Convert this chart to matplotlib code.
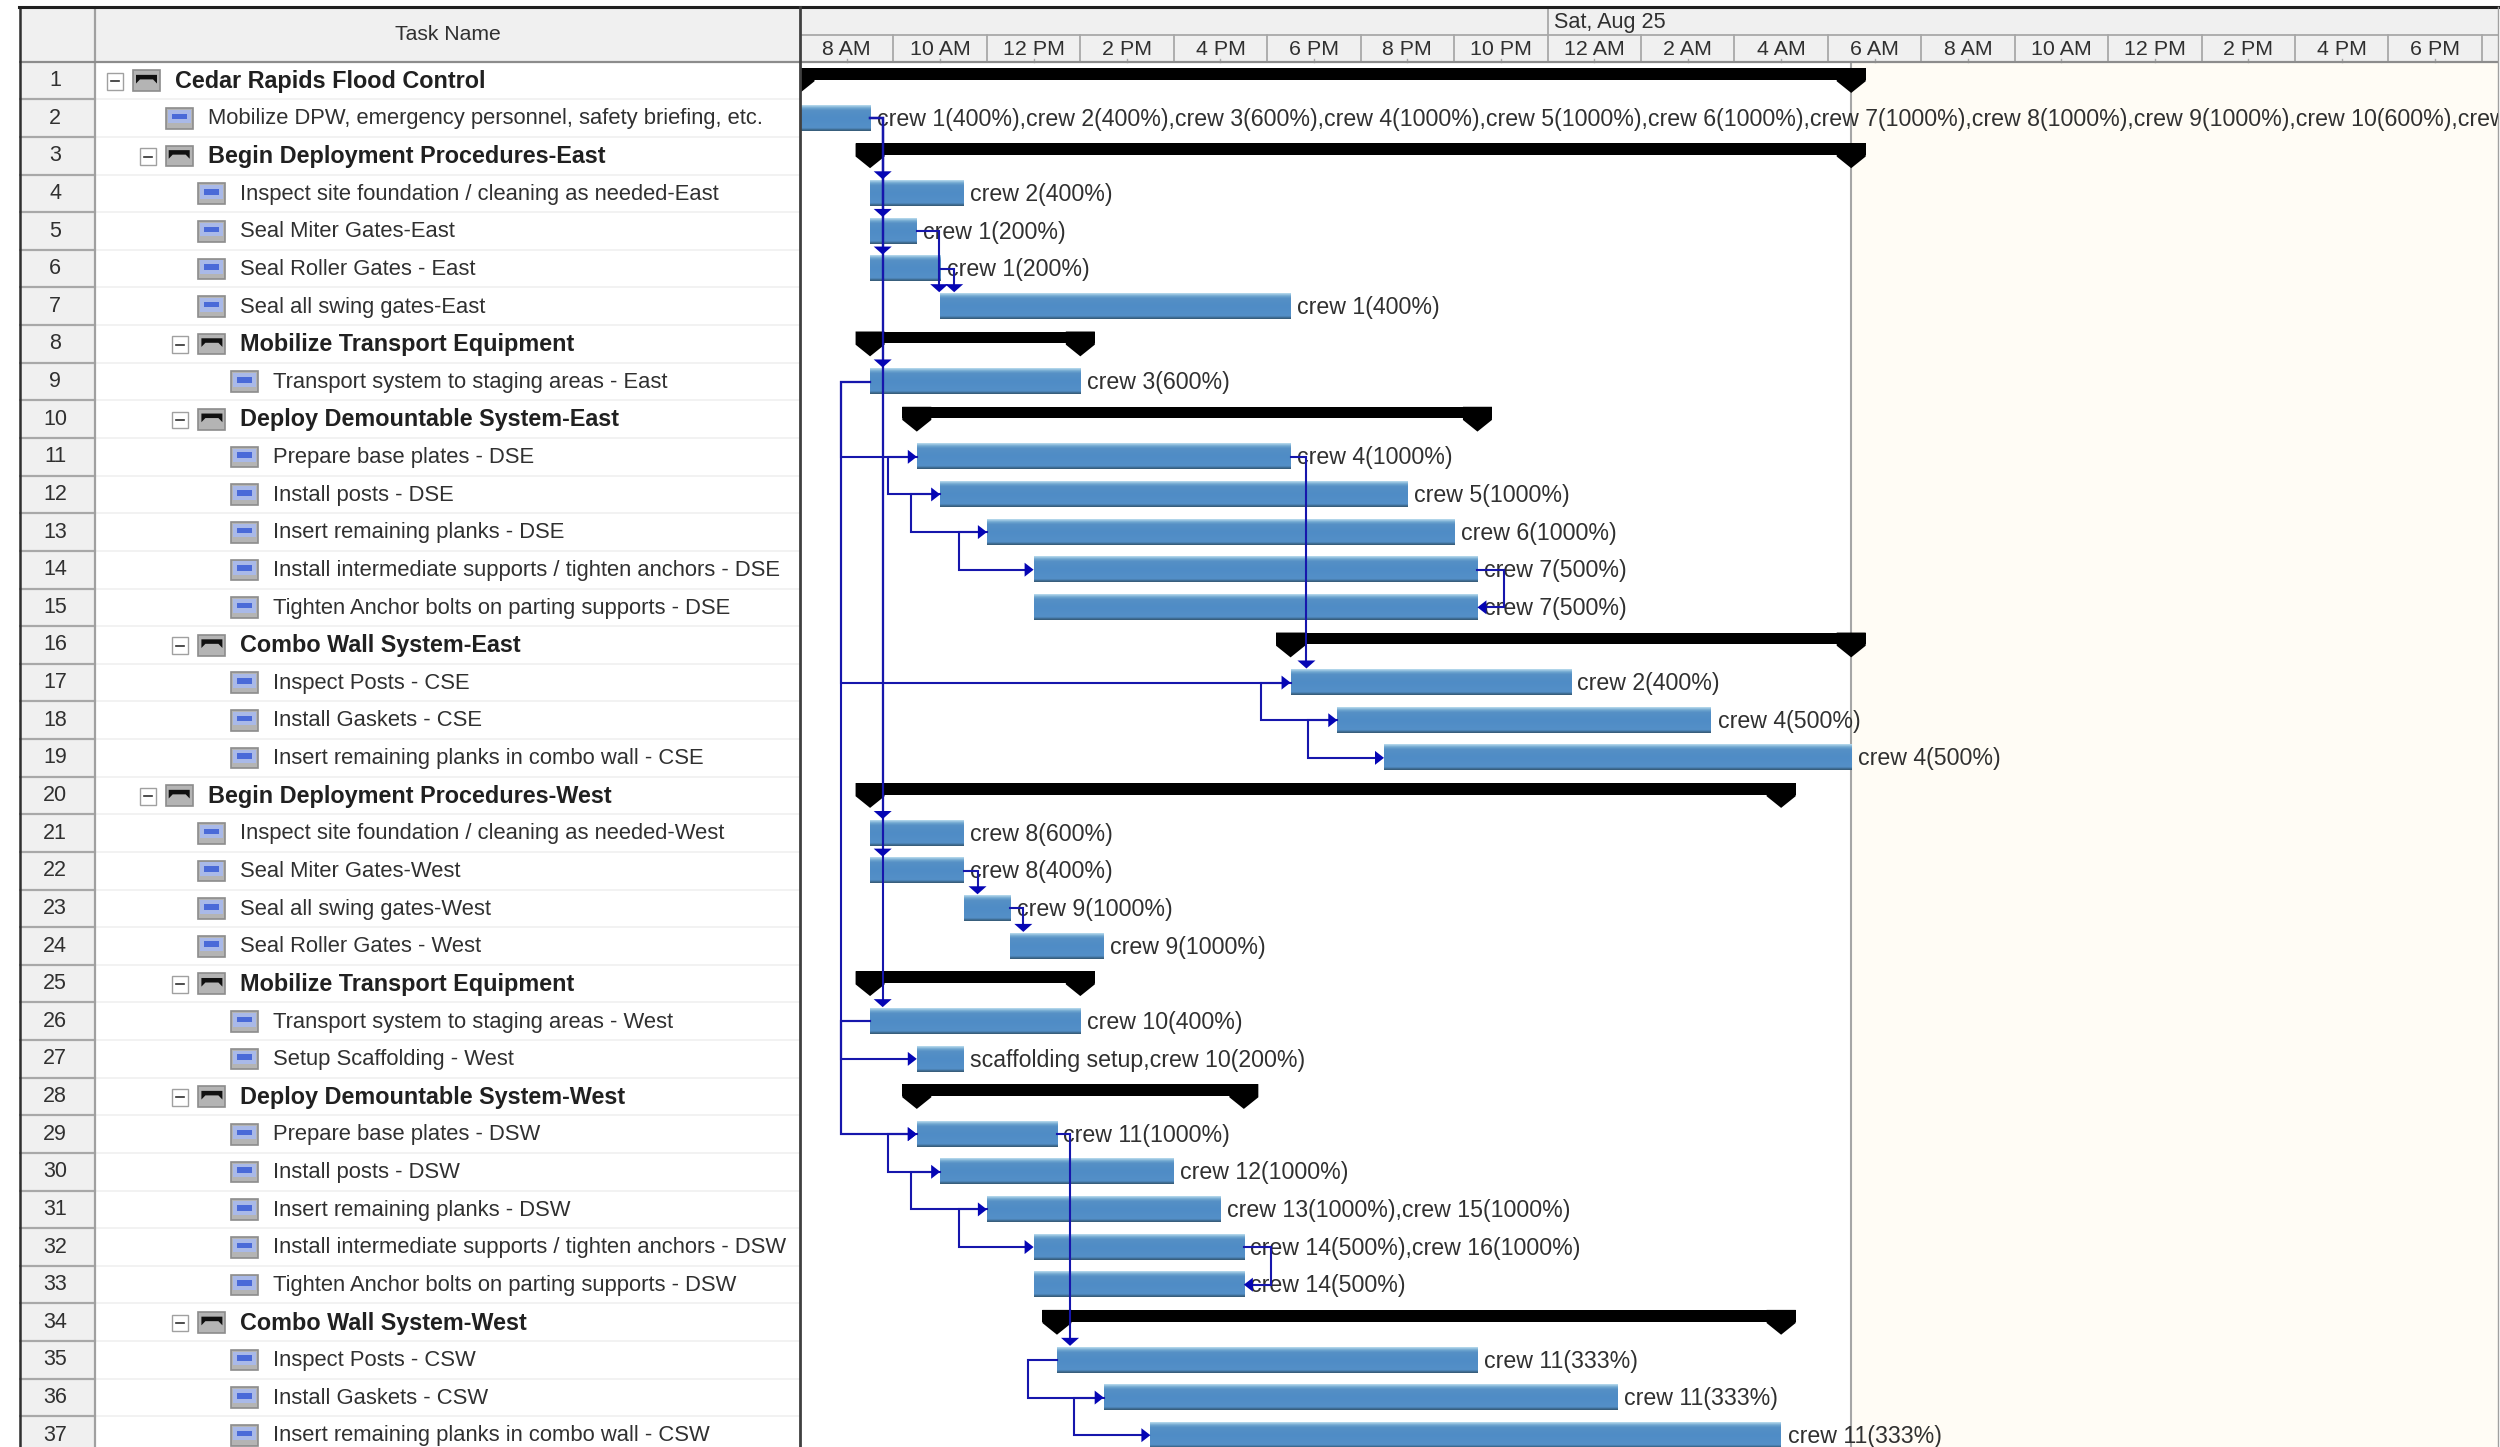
import numpy as np
import matplotlib
matplotlib.use('Agg')
import matplotlib.pyplot as plt
from matplotlib.colors import LinearSegmentedColormap
from matplotlib.patches import Polygon, Rectangle

plt.rcParams['font.family'] = ['Liberation Sans', 'DejaVu Sans']

# task table
task_names = [
    'Cedar Rapids Flood Control',
    'Mobilize DPW, emergency personnel, safety briefing, etc.',
    'Begin Deployment Procedures-East',
    'Inspect site foundation / cleaning as needed-East',
    'Seal Miter Gates-East',
    'Seal Roller Gates - East',
    'Seal all swing gates-East',
    'Mobilize Transport Equipment',
    'Transport system to staging areas - East',
    'Deploy Demountable System-East',
    'Prepare base plates - DSE',
    'Install posts - DSE',
    'Insert remaining planks - DSE',
    'Install intermediate supports / tighten anchors - DSE',
    'Tighten Anchor bolts on parting supports - DSE',
    'Combo Wall System-East',
    'Inspect Posts - CSE',
    'Install Gaskets - CSE',
    'Insert remaining planks in combo wall - CSE',
    'Begin Deployment Procedures-West',
    'Inspect site foundation / cleaning as needed-West',
    'Seal Miter Gates-West',
    'Seal all swing gates-West',
    'Seal Roller Gates - West',
    'Mobilize Transport Equipment',
    'Transport system to staging areas - West',
    'Setup Scaffolding - West',
    'Deploy Demountable System-West',
    'Prepare base plates - DSW',
    'Install posts - DSW',
    'Insert remaining planks - DSW',
    'Install intermediate supports / tighten anchors - DSW',
    'Tighten Anchor bolts on parting supports - DSW',
    'Combo Wall System-West',
    'Inspect Posts - CSW',
    'Install Gaskets - CSW',
    'Insert remaining planks in combo wall - CSW',
]
outline_levels = [0, 1, 1, 2, 2, 2, 2, 2, 3, 2, 3, 3, 3, 3, 3, 2, 3, 3, 3,
                  1, 2, 2, 2, 2, 2, 3, 3, 2, 3, 3, 3, 3, 3, 2, 3, 3, 3]
summary_rows = [1, 3, 8, 10, 16, 20, 25, 28, 34]

# hours after 8 AM on the first day
start_hours = [0, 0, 1.5, 1.5, 1.5, 1.5, 3, 1.5, 1.5, 2.5, 2.5, 3, 4, 5, 5,
               10.5, 10.5, 11.5, 12.5, 1.5, 1.5, 1.5, 3.5, 4.5, 1.5, 1.5, 2.5,
               2.5, 2.5, 3, 4, 5, 5, 5.5, 5.5, 6.5, 7.5]
end_hours = [22.5, 1.5, 22.5, 3.5, 2.5, 3, 10.5, 6, 6, 14.5, 10.5, 13, 14, 14.5, 14.5,
             22.5, 16.5, 19.5, 22.5, 21, 3.5, 3.5, 4.5, 6.5, 6, 6, 3.5,
             9.5, 5.5, 8, 9, 9.5, 9.5, 21, 14.5, 17.5, 21]
crew_labels = [
    '',
    'crew 1(400%),crew 2(400%),crew 3(600%),crew 4(1000%),crew 5(1000%),crew 6(1000%),'
    'crew 7(1000%),crew 8(1000%),crew 9(1000%),crew 10(600%),crew 11(1000%)',
    '', 'crew 2(400%)', 'crew 1(200%)', 'crew 1(200%)', 'crew 1(400%)',
    '', 'crew 3(600%)',
    '', 'crew 4(1000%)', 'crew 5(1000%)', 'crew 6(1000%)', 'crew 7(500%)', 'crew 7(500%)',
    '', 'crew 2(400%)', 'crew 4(500%)', 'crew 4(500%)',
    '', 'crew 8(600%)', 'crew 8(400%)', 'crew 9(1000%)', 'crew 9(1000%)',
    '', 'crew 10(400%)', 'scaffolding setup,crew 10(200%)',
    '', 'crew 11(1000%)', 'crew 12(1000%)', 'crew 13(1000%),crew 15(1000%)',
    'crew 14(500%),crew 16(1000%)', 'crew 14(500%)',
    '', 'crew 11(333%)', 'crew 11(333%)', 'crew 11(333%)',
]

# dependency links: (predecessor row, elbow hour, successor row)
finish_down_links = [(2, 1.77, 4), (2, 1.77, 5), (2, 1.77, 6), (2, 1.77, 9),
                     (2, 1.77, 21), (2, 1.77, 22), (2, 1.77, 26),
                     (5, 2.98, 7), (6, 3.3, 7), (11, 10.84, 17),
                     (22, 3.8, 23), (23, 4.78, 24), (29, 5.78, 35)]
start_right_links = [(9, 0.875, 11), (9, 0.875, 17), (9, 0.875, 29),
                     (26, 0.875, 27), (26, 0.875, 29),
                     (11, 1.89, 12), (12, 2.38, 13), (13, 3.4, 14),
                     (17, 9.87, 18), (18, 10.87, 19),
                     (29, 1.89, 30), (30, 2.38, 31), (31, 3.4, 32),
                     (35, 4.87, 36), (36, 5.87, 37)]
finish_back_links = [(14, 15.06, 15), (32, 10.08, 33)]

tick_labels = ['8 AM', '10 AM', '12 PM', '2 PM', '4 PM', '6 PM', '8 PM', '10 PM',
               '12 AM', '2 AM', '4 AM', '6 AM', '8 AM', '10 AM', '12 PM', '2 PM',
               '4 PM', '6 PM']
date_label = 'Sat, Aug 25'
midnight_hour = 16
project_finish = 22.5

W, H = 2500, 1447
FRAME_TOP = 7
HEADER_BOTTOM = 61.7
ROW_PX = 37.63
TABLE_LEFT, NUM_RIGHT, SPLIT, RIGHT = 19, 95, 800, 2498
PX_PER_HOUR = 46.72
LINK_COLOR = '#1616ac'
ARROW_COLOR = '#0505b4'
HEADER_BG = '#f0f0f0'
TEXT_COLOR = '#303030'

fig = plt.figure(figsize=(25, 14.47), dpi=100, facecolor='white')
y_top = 0.5 - (HEADER_BOTTOM - FRAME_TOP) / ROW_PX
y_bottom = 0.5 + (H - HEADER_BOTTOM) / ROW_PX


def make_axes(px_left, px_right):
    a = fig.add_axes([px_left / W, 0, (px_right - px_left) / W, (H - FRAME_TOP) / H])
    a.set_ylim(y_bottom, y_top)
    a.axis('off')
    return a


# left side: row numbers and task names
tab = make_axes(TABLE_LEFT, SPLIT)
tab.set_xlim(TABLE_LEFT, SPLIT)
tab.add_patch(Rectangle((TABLE_LEFT, y_top), NUM_RIGHT - TABLE_LEFT, y_bottom - y_top,
                        fc=HEADER_BG, ec='none'))
tab.add_patch(Rectangle((TABLE_LEFT, y_top), SPLIT - TABLE_LEFT, 0.5 - y_top,
                        fc=HEADER_BG, ec='none'))
tab.text((NUM_RIGHT + SPLIT) / 2, -0.22, 'Task Name', fontsize=15.2, color=TEXT_COLOR,
         ha='center', va='center')

for i, name in enumerate(task_names):
    row = i + 1
    tab.plot([TABLE_LEFT, NUM_RIGHT], [row + 0.5, row + 0.5], color='#a8a8a8', lw=1.6)
    tab.plot([NUM_RIGHT, SPLIT], [row + 0.5, row + 0.5], color='#f0f0f0', lw=1.2)
    tab.text(55, row, str(row), fontsize=15.5, color=TEXT_COLOR, ha='center', va='center')

    text_x = 175 + 32.7 * outline_levels[i]
    icon_x = text_x - 42
    is_summary = row in summary_rows
    tab.text(text_x, row + 0.02, name, fontsize=16.8 if is_summary else 15.85,
             color='#202020' if is_summary else TEXT_COLOR,
             fontweight='bold' if is_summary else 'normal', ha='left', va='center')

    # outline icon: grey tile with an arch (summary) or a blue bar (task)
    tab.add_patch(Rectangle((icon_x, row - 0.27), 27, 0.55, fc='#b4b4b4', ec='#8c8c8c', lw=1.2))
    if is_summary:
        tab.add_patch(Polygon([(icon_x + 3, row - 0.15), (icon_x + 24, row - 0.15),
                               (icon_x + 24, row + 0.08), (icon_x + 20, row - 0.03),
                               (icon_x + 7, row - 0.03), (icon_x + 3, row + 0.08)],
                              fc='#101010', ec='none'))
        tab.add_patch(Rectangle((icon_x - 26, row - 0.2), 16, 0.44, fc='white', ec='#a0a0a0', lw=1))
        tab.plot([icon_x - 22, icon_x - 14], [row + 0.02, row + 0.02], color='#303030', lw=1.2)
    else:
        tab.add_patch(Rectangle((icon_x + 2, row - 0.22), 23, 0.36, fc='#a9b9e8', ec='none'))
        tab.add_patch(Rectangle((icon_x + 6, row - 0.12), 15, 0.15, fc='#4a6ad8', ec='none'))

tab.plot([NUM_RIGHT, NUM_RIGHT], [y_top, y_bottom], color='#a0a0a0', lw=1.6)
tab.plot([TABLE_LEFT, SPLIT], [0.5, 0.5], color='#8c8c8c', lw=1.6)
tab.plot([TABLE_LEFT + 1, TABLE_LEFT + 1], [y_top, y_bottom], color='#303030', lw=1.8)
tab.plot([TABLE_LEFT, SPLIT], [y_top, y_top], color='#202020', lw=2.2, clip_on=False)

# right side: timescale and bars, x axis in hours
ax = make_axes(SPLIT, RIGHT)
ax.set_xlim(0, (RIGHT - SPLIT) / PX_PER_HOUR)
x_max = ax.get_xlim()[1]
hx = 1 / PX_PER_HOUR
ry = 1 / ROW_PX

ax.add_patch(Rectangle((0, y_top), x_max, 0.5 - y_top, fc=HEADER_BG, ec='none'))
ax.add_patch(Rectangle((project_finish, 0.5), x_max - project_finish, y_bottom - 0.5,
                       fc='#fffcf5', ec='none'))
ax.plot([project_finish, project_finish], [0.5, y_bottom], color='#a6a6a6', lw=1.5)

tier_y = 0.5 - (HEADER_BOTTOM - 35) / ROW_PX
ax.plot([0, x_max], [tier_y, tier_y], color='#a8a8a8', lw=1.3)
ax.plot([midnight_hour, midnight_hour], [y_top, tier_y], color='#a8a8a8', lw=1.3)
ax.text(midnight_hour + 6 * hx, (y_top + tier_y) / 2 + 0.04, date_label, fontsize=15.6,
        color=TEXT_COLOR, ha='left', va='center')
for i, label in enumerate(tick_labels):
    left = 2 * i
    ax.plot([left + 2, left + 2], [tier_y, 0.5], color='#a8a8a8', lw=1.3)
    ax.plot([left + 1, left + 1], [0.5 - 3 * ry, 0.5], color='#a8a8a8', lw=1)
    ax.text(left + 1, (tier_y + 0.5) / 2 + 0.03, label, fontsize=15.4, color=TEXT_COLOR,
            ha='center', va='center')
ax.plot([0, x_max], [0.5, 0.5], color='#8c8c8c', lw=1.6)

bar_cmap = LinearSegmentedColormap.from_list(
    'taskbar', [(0, '#b5d8ec'), (0.1, '#6ea5cf'), (0.2, '#5590c5'), (0.5, '#4f8cc6'),
                (0.9, '#5490c8'), (0.95, '#3f6f97'), (1, '#375c78')])
gradient = np.linspace(0, 1, 32).reshape(-1, 1)

for i in range(len(task_names)):
    row = i + 1
    s, e = start_hours[i], end_hours[i]
    if row in summary_rows:
        top, low, shoulder, tip = (row - 0.5 + f for f in (0.17, 0.48, 0.52, 0.83))
        cap = 14.5 * hx
        ax.add_patch(Rectangle((s - cap, top), e - s + 2 * cap, low - top, fc='black', ec='none', zorder=3))
        for c in (s, e):
            ax.add_patch(Polygon([(c - cap, top), (c + cap, top), (c + cap, shoulder), (c, tip),
                                  (c - cap, shoulder)], fc='black', ec='none', zorder=3))
    else:
        ax.imshow(gradient, cmap=bar_cmap, aspect='auto', vmin=0, vmax=1, zorder=3,
                  extent=(s, e, row - 0.5 + 0.835, row - 0.5 + 0.165), interpolation='bilinear')
        ax.text(e + 6.5 * hx, row + 0.03, crew_labels[i], fontsize=16.7, color=TEXT_COLOR,
                ha='left', va='center', zorder=4, clip_on=True)


def draw_link(xs, ys):
    ax.plot(xs, ys, color=LINK_COLOR, lw=1.5, zorder=5, solid_joinstyle='miter')


for src, elbow, dst in finish_down_links:
    tip_y = dst - 0.5 + 0.165 - 1.5 * ry
    draw_link([end_hours[src - 1], elbow, elbow], [src, src, tip_y - 6 * ry])
    ax.add_patch(Polygon([(elbow - 9 * hx, tip_y - 8 * ry), (elbow + 9 * hx, tip_y - 8 * ry), (elbow, tip_y)],
                         fc=ARROW_COLOR, ec='none', zorder=6))

for src, elbow, dst in start_right_links:
    tip_x = start_hours[dst - 1]
    draw_link([start_hours[src - 1], elbow, elbow, tip_x - 8 * hx], [src, src, dst, dst])
    ax.add_patch(Polygon([(tip_x - 9 * hx, dst - 7 * ry), (tip_x - 9 * hx, dst + 7 * ry), (tip_x, dst)],
                         fc=ARROW_COLOR, ec='none', zorder=6))

for src, elbow, dst in finish_back_links:
    tip_x = end_hours[dst - 1]
    draw_link([end_hours[src - 1], elbow, elbow, tip_x + 8 * hx], [src, src, dst, dst])
    ax.add_patch(Polygon([(tip_x + 9 * hx, dst - 7 * ry), (tip_x + 9 * hx, dst + 7 * ry), (tip_x, dst)],
                         fc=ARROW_COLOR, ec='none', zorder=6))

# imshow resets the limits, so set them again
ax.set_xlim(0, x_max)
ax.set_ylim(y_bottom, y_top)
ax.plot([0, 0], [y_top, y_bottom], color='#404040', lw=2, clip_on=False, zorder=7)
ax.plot([0, x_max], [y_top, y_top], color='#202020', lw=2.2, clip_on=False)
ax.plot([x_max, x_max], [y_top, y_bottom], color='#a0a0a0', lw=1, clip_on=False)

fig.savefig('out.png', dpi=100)
